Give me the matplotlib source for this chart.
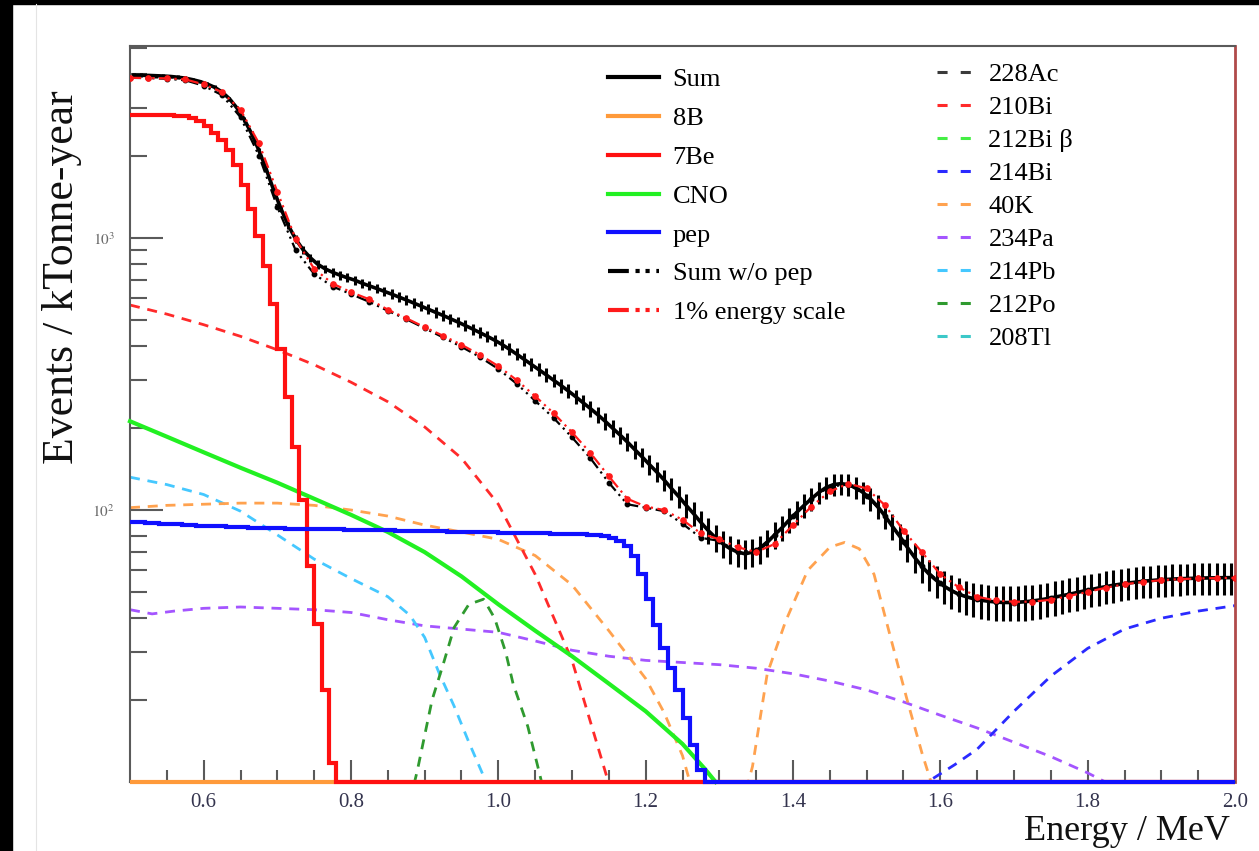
import numpy as np
import matplotlib
matplotlib.use("Agg")
import matplotlib.pyplot as plt
from matplotlib.lines import Line2D
from matplotlib.patches import Rectangle
from matplotlib.ticker import FixedLocator, NullFormatter, LogLocator

plt.rcParams['font.family'] = ['Liberation Serif', 'DejaVu Serif']
plt.rcParams['mathtext.fontset'] = 'stix'

# ---------------------------------------------------------------- data
# 0.01 MeV bins from 0.50 to 2.00 MeV
bin_edges = np.linspace(0.50, 2.00, 151)
bin_centers = 0.5 * (bin_edges[:-1] + bin_edges[1:])

sum_counts = [
    3970, 3965, 3960, 3950, 3940, 3925, 3900, 3870, 3820, 3760,
    3680, 3580, 3440, 3250, 3010, 2730, 2420, 2100, 1790, 1500,
    1280, 1110, 990, 905, 845, 800, 770, 748, 730, 714,
    700, 682, 667, 652, 637, 622, 607, 592, 577, 562,
    547, 533, 519, 505, 491, 477, 463, 449, 435, 421,
    406, 390, 374, 358, 343, 328, 314, 300, 287, 274,
    261, 248, 236, 224, 212, 200, 189, 178, 167, 157,
    147, 138, 129, 120, 112, 104, 97, 90, 84, 79,
    75, 72, 70, 69, 70, 72, 76, 81, 86, 92,
    98, 104, 110, 116, 121, 124, 125, 124, 121, 116,
    110, 103, 95, 87, 80, 73, 67, 62, 58, 55,
    52.5, 50.5, 49, 48, 47.2, 46.6, 46.2, 45.9, 45.7, 45.7,
    45.8, 46.0, 46.3, 46.7, 47.2, 47.8, 48.4, 49.0, 49.7, 50.4,
    51.0, 51.7, 52.3, 52.9, 53.4, 53.9, 54.3, 54.7, 55.0, 55.3,
    55.5, 55.7, 55.9, 56.0, 56.1, 56.2, 56.3, 56.3, 56.4, 56.4,
]

be7_counts = [
    2840, 2840, 2838, 2835, 2830, 2825, 2815, 2800, 2760, 2690,
    2580, 2440, 2290, 2100, 1850, 1560, 1280, 1020, 790, 570,
    390, 260, 170, 109, 62, 38, 21.8, 11.7,
] + [0.0] * 122

pep_counts = [
    90.3, 90.0, 89.7, 89.4, 89.1, 88.8, 88.5, 88.2, 87.9, 87.6,
    87.4, 87.2, 87.0, 86.8, 86.6, 86.4, 86.2, 86.0, 85.8, 85.7,
    85.6, 85.5, 85.4, 85.3, 85.2, 85.1, 85.0, 84.9, 84.8, 84.7,
    84.6, 84.5, 84.4, 84.3, 84.2, 84.1, 84.0, 83.9, 83.8, 83.7,
    83.6, 83.5, 83.4, 83.3, 83.2, 83.1, 83.0, 82.9, 82.8, 82.7,
    82.6, 82.5, 82.4, 82.3, 82.2, 82.1, 82.0, 81.9, 81.8, 81.7,
    81.5, 81.3, 81.0, 80.6, 80.0, 79.0, 77.2, 73.8, 67.5, 58.0,
    47.0, 37.8, 31.1, 26.3, 21.8, 17.2, 13.7, 11.1,
] + [0.0] * 72

# 8B on coarse 0.1 MeV bins
b8_edges = np.linspace(0.50, 2.00, 16)
b8_counts = [0.9, 0.9, 0.9, 0.85, 0.85, 0.85, 0.8, 0.8, 0.8, 0.75, 0.75, 0.75, 0.7, 0.7, 0.7]

cno_energy = [0.50, 0.55, 0.60, 0.65, 0.70, 0.75, 0.80, 0.85, 0.90, 0.95,
              1.00, 1.05, 1.10, 1.15, 1.20, 1.25, 1.28, 1.295]
cno_counts = [212, 186, 163, 143, 126, 110, 96, 83, 70, 57,
              45, 36, 29, 23, 18.2, 13.8, 11.2, 0.0]

# summed spectra on 0.025 MeV steps
sum_line_energy = np.linspace(0.50, 2.00, 61)
sum_wo_pep = [
    3880, 3870, 3850, 3800, 3630, 3350, 2780, 2010, 1300, 900,
    737, 663, 622, 582, 540, 503, 466, 431, 398, 365,
    330, 291, 252, 218, 185, 155, 126, 105, 102, 99,
    89, 79, 77, 70, 71, 81, 95, 110, 122, 124,
    113, 95, 76, 62, 54, 49, 47, 46, 45.7, 46.2,
    47.5, 49, 50.7, 52.3, 53.6, 54.7, 55.4, 55.9, 56.1, 56.3,
    56.4,
]
sum_escale = [
    3880, 3875, 3862, 3830, 3670, 3440, 2960, 2230, 1480, 990,
    770, 680, 632, 595, 545, 507, 470, 437, 405, 372,
    338, 300, 262, 227, 193, 162, 133, 110, 103, 100,
    92, 82, 78, 73, 70, 75, 88, 103, 117, 125,
    120, 104, 84, 70, 58, 52, 48, 46.5, 46, 46,
    46.8, 48.3, 50, 51.8, 53.3, 54.4, 55.2, 55.7, 56, 56.2,
    56.3,
]

# background components
ac228_energy = [0.50, 1.00, 1.50, 2.00]
ac228_counts = [6.0, 5.0, 4.0, 3.0]

bi210_energy = [0.50, 0.55, 0.60, 0.65, 0.70, 0.75, 0.80, 0.85, 0.90, 0.95,
                1.00, 1.05, 1.10, 1.13, 1.16]
bi210_counts = [567, 525, 480, 435, 388, 342, 295, 250, 202, 155,
                105, 58, 28, 15, 8]

bi212_energy = [0.50, 1.00, 1.50, 2.00]
bi212_counts = [4.0, 4.0, 3.5, 3.0]

bi214_energy = [1.58, 1.59, 1.62, 1.65, 1.70, 1.75, 1.80, 1.85, 1.90, 1.95, 2.00]
bi214_counts = [9.0, 10.3, 11.6, 13.2, 18.2, 24.5, 31, 36.5, 40, 42.5, 44.5]

k40_energy = [0.50, 0.55, 0.60, 0.65, 0.70, 0.75, 0.80, 0.85, 0.90, 0.95,
              1.00, 1.05, 1.10, 1.15, 1.20, 1.225, 1.25, 1.27, 1.33, 1.345,
              1.365, 1.39, 1.42, 1.45, 1.47, 1.49, 1.51, 1.535, 1.555, 1.575,
              1.59, 1.60]
k40_counts = [102, 104, 105, 106, 106, 104, 100, 95, 88, 83,
              78, 68, 53, 36, 24, 18, 12.5, 8, 8, 11.4,
              25, 39, 60, 73, 76, 72, 58, 32, 20, 12.8,
              9.5, 8]

pa234_energy = [0.50, 0.53, 0.56, 0.60, 0.65, 0.70, 0.75, 0.80, 0.85, 0.90,
                0.95, 1.00, 1.05, 1.10, 1.15, 1.20, 1.25, 1.30, 1.35, 1.40,
                1.45, 1.50, 1.55, 1.60, 1.65, 1.70, 1.75, 1.80, 1.85]
pa234_counts = [43, 41.5, 42.5, 43.5, 44, 43.5, 43, 42, 39.5, 37.5,
                36.5, 35.5, 33, 30.5, 29, 28, 27.5, 27, 26.2, 25,
                23.5, 21.8, 19.7, 17.6, 15.8, 14, 12.4, 10.8, 9.2]

pb214_energy = [0.50, 0.55, 0.60, 0.65, 0.70, 0.75, 0.80, 0.85, 0.88, 0.90,
                0.92, 0.94, 0.96, 0.98, 1.00]
pb214_counts = [132, 124, 114, 99, 81, 66, 56, 48, 41, 34,
                25, 19, 14, 10.5, 7]

po212_energy = [0.88, 0.89, 0.91, 0.925, 0.94, 0.96, 0.98, 0.995, 1.01, 1.02,
                1.04, 1.055, 1.065]
po212_counts = [8.5, 11, 20, 27, 37, 45, 47, 40, 30, 23, 16, 11, 8.5]

tl208_energy = [0.50, 1.00, 1.50, 2.00]
tl208_counts = [2.0, 2.0, 2.0, 2.0]

# ---------------------------------------------------------------- figure
W, H = 1259, 851
fig = plt.figure(figsize=(W / 100, H / 100), dpi=100)
fig.patch.set_facecolor('white')

x0, x1, ytop, ybot = 130, 1235, 46, 782
ax = fig.add_axes([x0 / W, 1 - ybot / H, (x1 - x0) / W, (ybot - ytop) / H])
ax.set_xlim(0.5, 2.0)
ax.set_yscale('log')
y_floor = 10.0
ax.set_ylim(y_floor, 5080)

dash_lw = 2.0
dashes = (3.6, 2.8)

def dashed(E, v, color):
    ax.plot(E, v, color=color, lw=dash_lw, dashes=dashes, zorder=2,
            solid_capstyle='butt', dash_capstyle='butt')

c_ac228, c_bi210, c_bi212, c_bi214 = '#3a3a3a', '#ff2a2a', '#44ee44', '#2a2aff'
c_k40, c_pa234, c_pb214, c_po212, c_tl208 = '#ffa24f', '#a455ff', '#45c8ff', '#2f9a2f', '#3cc8c8'

dashed(ac228_energy, ac228_counts, c_ac228)
dashed(bi212_energy, bi212_counts, c_bi212)
dashed(tl208_energy, tl208_counts, c_tl208)
dashed(pa234_energy, pa234_counts, c_pa234)
dashed(pb214_energy, pb214_counts, c_pb214)
dashed(k40_energy, k40_counts, c_k40)
dashed(bi210_energy, bi210_counts, c_bi210)
dashed(po212_energy, po212_counts, c_po212)
dashed(bi214_energy, bi214_counts, c_bi214)

# solar neutrino components (empty bins drawn on the floor, as in ROOT)
c_b8, c_be7, c_cno, c_pep = '#ff9a3a', '#ff1010', '#22f022', '#1010ff'
solid_lw = 3.0
ax.stairs(np.maximum(b8_counts, y_floor), b8_edges, baseline=None,
          color=c_b8, lw=solid_lw, zorder=3, clip_on=False)
ax.plot(cno_energy, np.maximum(cno_counts, y_floor), color=c_cno,
        lw=solid_lw, zorder=3, clip_on=False)
ax.stairs(np.maximum(be7_counts, y_floor), bin_edges, baseline=None,
          color=c_be7, lw=solid_lw, zorder=3, clip_on=False)
ax.stairs(np.maximum(pep_counts, y_floor), bin_edges, baseline=None,
          color=c_pep, lw=solid_lw, zorder=3, clip_on=False)

# total with statistical error bars
sum_arr = np.array(sum_counts)
sum_err = np.sqrt(sum_arr)
ax.errorbar(bin_centers, sum_arr, yerr=sum_err, fmt='-', color='black', lw=2.6,
            elinewidth=2.2, capsize=0, zorder=4)

dd = (5, 2, 1, 2, 1, 2)
ax.plot(sum_line_energy, sum_wo_pep, color='black', lw=1.6, dashes=dd, zorder=5)
ax.plot(sum_line_energy, sum_wo_pep, ls='none', marker='o', ms=3.2, color='black', zorder=5)
ax.plot(sum_line_energy, sum_escale, color='#ff1a1a', lw=1.6, dashes=dd, zorder=6)
ax.plot(sum_line_energy, sum_escale, ls='none', marker='o', ms=3.8, color='#ff1a1a', zorder=6)

# ---------------------------------------------------------------- axes styling
frame_c = '#5a5a5a'
for s in ('top', 'left', 'bottom'):
    ax.spines[s].set_color(frame_c)
    ax.spines[s].set_linewidth(1.5)
ax.spines['right'].set_color('#b04a4a')
ax.spines['right'].set_linewidth(2.0)

major_x = [0.6, 0.8, 1.0, 1.2, 1.4, 1.6, 1.8, 2.0]
ax.xaxis.set_major_locator(FixedLocator(major_x))
ax.set_xticklabels(['0.6', '0.8', '1.0', '1.2', '1.4', '1.6', '1.8', '2.0'])
ax.xaxis.set_minor_locator(FixedLocator(np.linspace(0.55, 1.95, 29)))
ax.tick_params(axis='x', which='major', direction='in', length=16, width=1.5,
               color=frame_c, labelsize=15, pad=8, labelcolor='#34344e')
ax.tick_params(axis='x', which='minor', direction='in', length=8.5, width=1.5,
               color=frame_c)

ax.yaxis.set_major_locator(FixedLocator([100, 1000]))
ax.set_yticklabels(['$10^{2}$', '$10^{3}$'])
ax.yaxis.set_minor_locator(LogLocator(base=10, subs=np.arange(2, 10)))
ax.yaxis.set_minor_formatter(NullFormatter())
ax.tick_params(axis='y', which='major', direction='in', length=24, width=1.5,
               color=frame_c, labelsize=11, pad=11, labelcolor='#6a6a6a')
ax.tick_params(axis='y', which='minor', direction='in', length=12, width=1.5,
               color=frame_c)

ax.set_ylabel('Events / kTonne-year', fontsize=31.5, loc='top', color='#111111')
ax.yaxis.set_label_coords((82 - x0) / (x1 - x0), (ybot - 90) / (ybot - ytop))
ax.set_xlabel('Energy / MeV', fontsize=26, loc='right', color='#111111')
ax.xaxis.set_label_coords((1230 - x0) / (x1 - x0), -(815 - ybot) / (ybot - ytop))

# ---------------------------------------------------------------- legends
leg_fs = 19
h_sum = Line2D([], [], color='black', lw=3.0)
h_b8l = Line2D([], [], color=c_b8, lw=3.0)
h_be7l = Line2D([], [], color=c_be7, lw=3.0)
h_cnol = Line2D([], [], color=c_cno, lw=3.0)
h_pepl = Line2D([], [], color=c_pep, lw=3.0)
h_wol = Line2D([], [], color='black', lw=3.0, dashes=(5, 1.6, 1, 1.4, 1, 1.6))
h_esl = Line2D([], [], color='#ff1a1a', lw=3.0, dashes=(5, 1.6, 1, 1.4, 1, 1.6))
leg1 = ax.legend([h_sum, h_b8l, h_be7l, h_cnol, h_pepl, h_wol, h_esl],
                 ['Sum', '8B', '7Be', 'CNO', 'pep', 'Sum w/o pep', '1% energy scale'],
                 loc='upper left', bbox_to_anchor=((608 - x0) / (x1 - x0), (ybot - 68) / (ybot - ytop)),
                 frameon=False, fontsize=leg_fs, borderpad=0, borderaxespad=0,
                 handlelength=1.95, handletextpad=0.5, labelspacing=0.58)
ax.add_artist(leg1)

bg_colors = [c_ac228, c_bi210, c_bi212, c_bi214, c_k40, c_pa234, c_pb214, c_po212, c_tl208]
bg_labels = ['228Ac', '210Bi', '212Bi β', '214Bi', '40K', '234Pa', '214Pb', '212Po', '208Tl']
bg_handles = [Line2D([], [], color=c, lw=2.2, dashes=(3.3, 4.3)) for c in bg_colors]
leg2 = ax.legend(bg_handles, bg_labels,
                 loc='upper left', bbox_to_anchor=((937 - x0) / (x1 - x0), (ybot - 63) / (ybot - ytop)),
                 frameon=False, fontsize=leg_fs, borderpad=0, borderaxespad=0,
                 handlelength=1.35, handletextpad=0.6, labelspacing=0.36)

# ---------------------------------------------------------------- page border
fig.add_artist(Rectangle((0, 0), 12 / W, 1, transform=fig.transFigure,
                         color='black', zorder=20))
fig.add_artist(Rectangle((0, 1 - 4 / H), 1, 4 / H, transform=fig.transFigure,
                         color='black', zorder=20))
fig.add_artist(Line2D([36 / W, 36 / W], [0, 1 - 4 / H], transform=fig.transFigure,
                      color='#e4e4e4', lw=0.8, zorder=20))

fig.savefig('out.png', dpi=100)
